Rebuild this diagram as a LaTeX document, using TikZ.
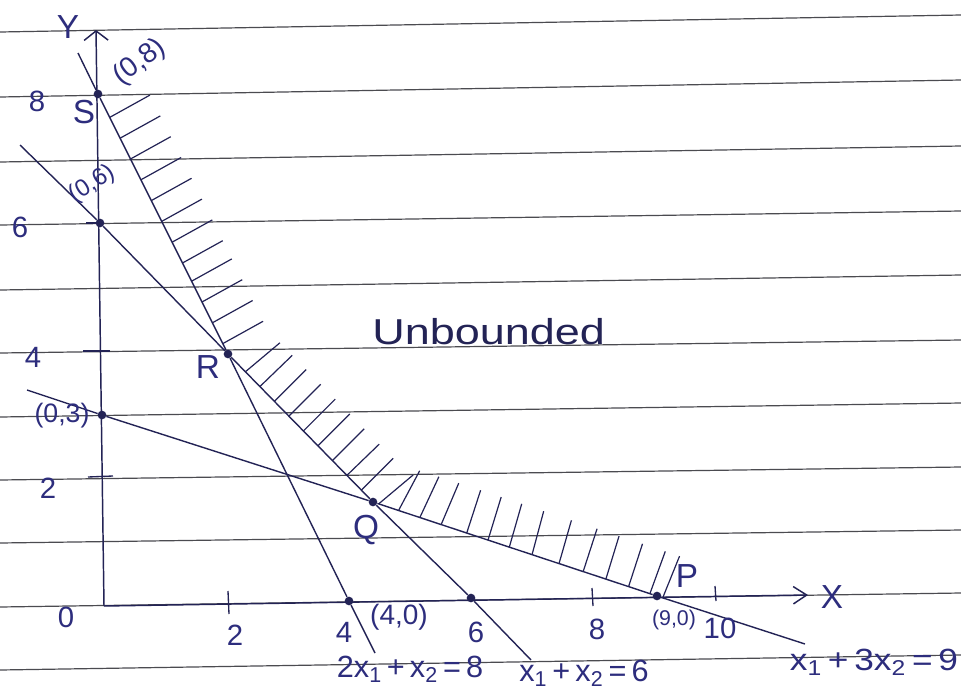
\documentclass[tikz,border=0pt]{standalone}
\usepackage{fontspec}
\setmainfont{Liberation Sans}
\usetikzlibrary{calc,arrows.meta}
\definecolor{ink}{RGB}{35,35,85}
\definecolor{pen}{RGB}{45,45,125}
\definecolor{ruleline}{RGB}{75,75,80}
\begin{document}
\begin{tikzpicture}[x=0.75pt,y=-0.75pt,
  ruled/.style={draw=ruleline,line width=0.9pt},
  axis/.style={draw=ink,line width=1.1pt},
  inkline/.style={draw=ink,line width=1.05pt},
  hatch/.style={draw=ink,line width=0.9pt},
  tickmark/.style={draw=ink,line width=1pt},
  dot/.style={circle,fill=ink,inner sep=0pt,minimum size=6.5pt},
  num/.style={text=pen,inner sep=0pt,font=\fontsize{22}{24}\selectfont},
  coord/.style={text=pen,inner sep=0pt,font=\fontsize{20}{22}\selectfont},
  letter/.style={text=pen,inner sep=0pt,font=\fontsize{25}{27}\selectfont},
  eqn/.style={text=pen,inner sep=0pt,font=\fontsize{23}{25}\selectfont}]
\useasboundingbox (0,0) rectangle (961,693);
\fill[white] (0,0) rectangle (961,693);
% ruled paper
\foreach \a/\b in {32/15,97/80,162/146,225/211,290/275,353/340,417/403,480/467,543/530,607/593,670/655}
  \draw[ruled] (0,\a) -- (961,\b);
% axes
\coordinate (O) at (104,606);
\coordinate (Ytop) at (96,30);
\coordinate (Xend) at (808,595);
\draw[axis,-{Straight Barb[length=7pt,width=18pt,line width=1.1pt]}] (O) -- (Ytop);
\draw[axis,-{Straight Barb[length=10pt,width=13pt,line width=1.1pt]}] (O) -- (Xend);
% ticks
\draw[tickmark] (86,223) -- (100,223);
\draw[tickmark] (83,351) -- (110,351);
\draw[tickmark] (88,477) -- (113,476);
\draw[tickmark] (228,591) -- (229,614);
\draw[tickmark] (592,588) -- (593,606);
\draw[tickmark] (715,586) -- (716,601);
% points
\node[dot] (S) at (98,94) {};
\node[dot] (B6) at (100,223) {};
\node[dot] (R) at (228,354) {};
\node[dot] (B3) at (102,415) {};
\node[dot] (Q) at (373,502) {};
\node[dot] (A4) at (349,601) {};
\node[dot] (A6) at (471,598) {};
\node[dot] (P) at (657,596) {};
\coordinate (L1a) at (78,53);
\coordinate (L1b) at (375,653);
\coordinate (L2a) at (20,145);
\coordinate (L2b) at (531,660);
\coordinate (L3a) at (27,390);
\coordinate (L3b) at (805,644);
% constraint lines
\draw[inkline] (L1a) -- (S) -- (R) -- (A4) -- (L1b);
\draw[inkline] (L2a) -- (B6) -- (R) -- (Q) -- (A6) -- (L2b);
\draw[inkline] (L3a) -- (B3) -- (Q) -- (P) -- (L3b);
% hatching
\foreach \t in {0.09,0.17,0.25,0.33,0.41,0.49,0.57,0.65,0.72,0.80,0.88,0.96}
  \draw[hatch] ($(S)!\t!(R)$) -- ++(-29:46);
\foreach \t/\a in {0.12/40,0.22/44,0.32/45,0.42/45,0.52/45,0.62/45,0.72/45,0.82/44,0.92/45}
  \draw[hatch] ($(R)!\t!(Q)$) -- ++(-\a:45);
\foreach \t/\a in {0.02/40,0.09/62,0.165/65,0.24/67,0.33/72,0.405/73,0.48/74,0.56/75,0.655/74,0.74/72,0.82/73,0.90/72,0.975/70,1.02/68}
  \draw[hatch] ($(Q)!\t!(P)$) -- ++(-\a:45);
% labels
\node[letter] (lY) at (68,27) {Y};
\node[coord,rotate=37,font=\fontsize{21}{23}\selectfont] (l08) at (140,62) {(0,8)};
\node[letter] (lS) at (84,112) {S};
\node[num] (n8y) at (37,101) {8};
\node[coord,rotate=32,font=\fontsize{18}{20}\selectfont] (l06) at (92,184) {(0,6)};
\node[num] (n6y) at (20,227) {6};
\node[num] (n4y) at (33,357) {4};
\node[letter] (lR) at (208,367) {R};
\node[coord] (l03) at (62,416) {(0,3)};
\node[num] (n2y) at (48,488) {2};
\node[letter] (lQ) at (366,530) {Q};
\node[num] (n0) at (66,617) {0};
\node[num] (n2x) at (235,635) {2};
\node[num] (n4x) at (344,632) {4};
\node[coord,font=\fontsize{21}{23}\selectfont] (l40) at (399,617) {(4,0)};
\node[num] (n6x) at (476,632) {6};
\node[num] (n8x) at (597,629) {8};
\node[text=pen,inner sep=0pt,font=\fontsize{16}{18}\selectfont] (l90) at (674,620) {(9,0)};
\node[num] (n10) at (720,628) {10};
\node[letter] (lP) at (687,576) {P};
\node[letter] (lX) at (832,597) {X};
\node[eqn] (e1) at (410,669) {2x\textsubscript{1}\,+\,x\textsubscript{2}\,=\,8};
\node[eqn] (e2) at (584,673) {x\textsubscript{1}\,+\,x\textsubscript{2}\,=\,6};
\node[eqn,xscale=1.15] (e3) at (874,662) {x\textsubscript{1}\,+\,3x\textsubscript{2}\,=\,9};
\node[text=ink,inner sep=0pt,anchor=base west,xscale=1.25,font=\fontsize{27}{29}\selectfont] (ub) at (372,344) {Unbounded};
\end{tikzpicture}
\end{document}
